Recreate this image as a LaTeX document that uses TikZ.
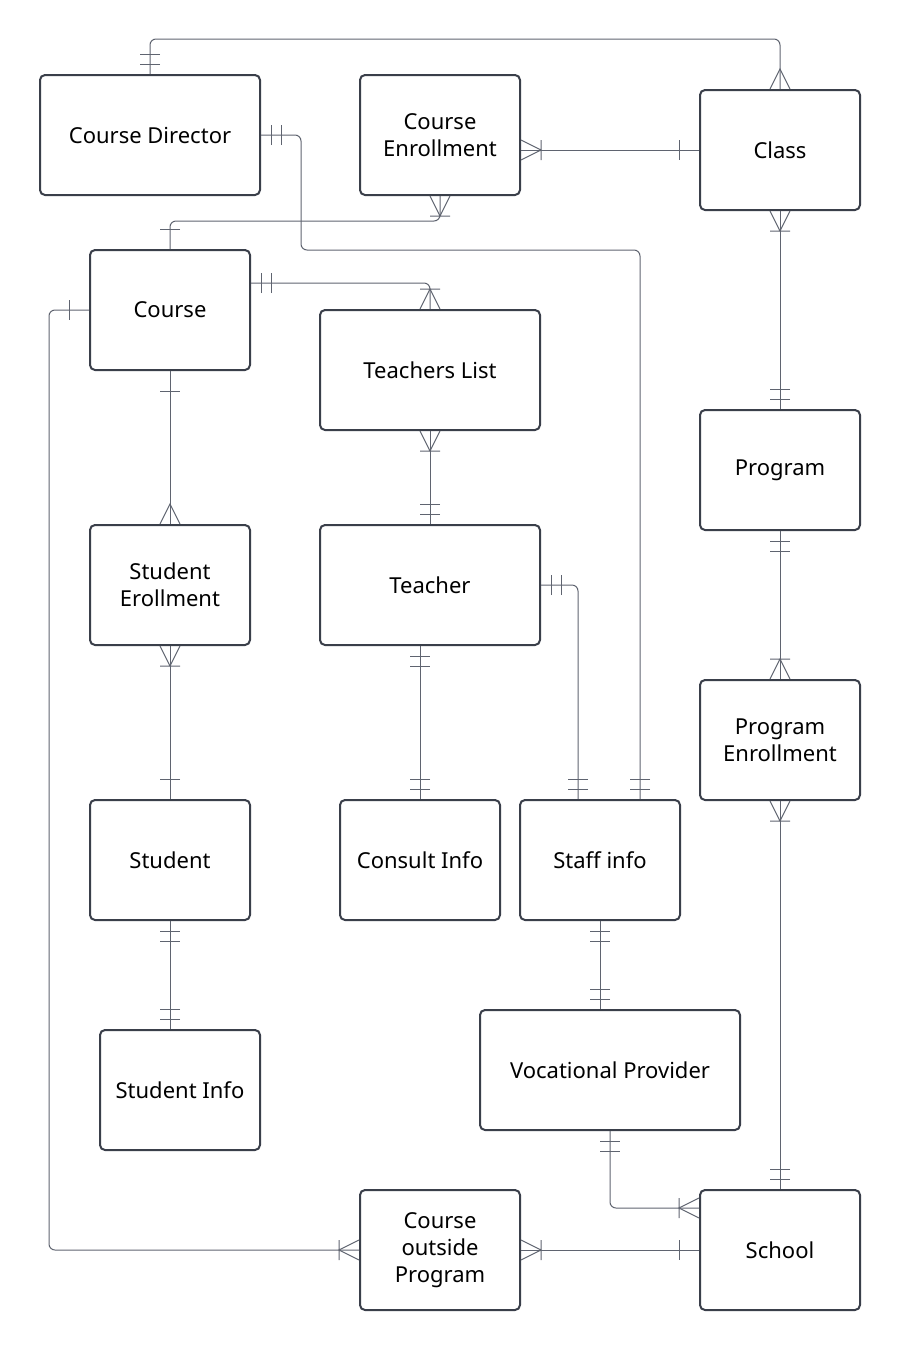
\documentclass[tikz,border=0pt]{standalone}
\usepackage{fontspec}
\setmainfont{Noto Sans}
\usetikzlibrary{arrows.meta}

\definecolor{boxline}{HTML}{3A3F4A}
\definecolor{linkgray}{HTML}{5F6470}

% crow's foot ends
\pgfdeclarearrow{
  name = many,
  setup code = {
    \pgfarrowssettipend{0pt}
    \pgfarrowssetlineend{0pt}
    \pgfarrowssetbackend{-20pt}
    \pgfarrowssetvisualbackend{-20pt}
    \pgfarrowshullpoint{0pt}{10pt}
    \pgfarrowshullpoint{0pt}{-10pt}
    \pgfarrowshullpoint{-20pt}{0pt}
  },
  drawing code = {
    \pgfsetdash{}{0pt}
    \pgfpathmoveto{\pgfqpoint{0pt}{10pt}}
    \pgfpathlineto{\pgfqpoint{-20pt}{0pt}}
    \pgfpathlineto{\pgfqpoint{0pt}{-10pt}}
    \pgfusepathqstroke
  }
}
\pgfdeclarearrow{
  name = onemany,
  setup code = {
    \pgfarrowssettipend{0pt}
    \pgfarrowssetlineend{0pt}
    \pgfarrowssetbackend{-21pt}
    \pgfarrowssetvisualbackend{-21pt}
    \pgfarrowshullpoint{0pt}{10pt}
    \pgfarrowshullpoint{0pt}{-10pt}
    \pgfarrowshullpoint{-21pt}{10pt}
    \pgfarrowshullpoint{-21pt}{-10pt}
  },
  drawing code = {
    \pgfsetdash{}{0pt}
    \pgfpathmoveto{\pgfqpoint{0pt}{10pt}}
    \pgfpathlineto{\pgfqpoint{-20pt}{0pt}}
    \pgfpathlineto{\pgfqpoint{0pt}{-10pt}}
    \pgfpathmoveto{\pgfqpoint{-20pt}{10pt}}
    \pgfpathlineto{\pgfqpoint{-20pt}{-10pt}}
    \pgfusepathqstroke
  }
}
\pgfdeclarearrow{
  name = one,
  setup code = {
    \pgfarrowssettipend{0pt}
    \pgfarrowssetlineend{0pt}
    \pgfarrowssetbackend{-21pt}
    \pgfarrowssetvisualbackend{-21pt}
    \pgfarrowshullpoint{0pt}{10pt}
    \pgfarrowshullpoint{0pt}{-10pt}
    \pgfarrowshullpoint{-21pt}{10pt}
    \pgfarrowshullpoint{-21pt}{-10pt}
  },
  drawing code = {
    \pgfsetdash{}{0pt}
    \pgfpathmoveto{\pgfqpoint{-20pt}{10pt}}
    \pgfpathlineto{\pgfqpoint{-20pt}{-10pt}}
    \pgfusepathqstroke
  }
}
\pgfdeclarearrow{
  name = onlyone,
  setup code = {
    \pgfarrowssettipend{0pt}
    \pgfarrowssetlineend{0pt}
    \pgfarrowssetbackend{-21pt}
    \pgfarrowssetvisualbackend{-21pt}
    \pgfarrowshullpoint{0pt}{10pt}
    \pgfarrowshullpoint{0pt}{-10pt}
    \pgfarrowshullpoint{-21pt}{10pt}
    \pgfarrowshullpoint{-21pt}{-10pt}
  },
  drawing code = {
    \pgfsetdash{}{0pt}
    \pgfpathmoveto{\pgfqpoint{-10pt}{10pt}}
    \pgfpathlineto{\pgfqpoint{-10pt}{-10pt}}
    \pgfpathmoveto{\pgfqpoint{-20pt}{10pt}}
    \pgfpathlineto{\pgfqpoint{-20pt}{-10pt}}
    \pgfusepathqstroke
  }
}

\tikzset{
  entity/.style = {draw=boxline, line width=2pt, rounded corners=5pt,
    minimum width=160pt, minimum height=120pt, inner sep=0pt,
    align=center, font=\fontsize{22}{27}\selectfont},
  wide/.style = {minimum width=220pt},
  link/.style = {draw=linkgray, line width=1pt, rounded corners=6pt}
}

\begin{document}
\begin{tikzpicture}[x=1pt, y=-1pt]
        \useasboundingbox (0,0) rectangle (900,1350);

        % entities
        \node[entity, wide] (dir) at (150,135) {Course Director};
        \node[entity] (cenr) at (440,135) {Course\\Enrollment};
        \node[entity] (class) at (780,150) {Class};
        \node[entity] (course) at (170,310) {Course};
        \node[entity, wide] (tlist) at (430,370) {Teachers List};
        \node[entity] (prog) at (780,470) {Program};
        \node[entity] (senr) at (170,585) {Student\\Erollment};
        \node[entity, wide] (teacher) at (430,585) {Teacher};
        \node[entity] (penr) at (780,740) {Program\\Enrollment};
        \node[entity] (student) at (170,860) {Student};
        \node[entity] (consult) at (420,860) {Consult Info};
        \node[entity] (staff) at (600,860) {Staff info};
        \node[entity, minimum width=260pt] (voc) at (610,1070) {Vocational Provider};
        \node[entity] (sinfo) at (180,1090) {Student Info};
        \node[entity] (cop) at (440,1250) {Course\\outside\\Program};
        \node[entity] (school) at (780,1250) {School};

        % relations
        \draw[link, onlyone-many] (dir.north) -- ++(0,-35) -| (class.north);
        \draw[link, onlyone-onlyone] (dir.east) -| ++(40,115) -| ([xshift=40pt]staff.north);
        \draw[link, onemany-one] (class.west -| cenr.east) -- (class.west);
        \draw[link, onemany-one] (cenr.south) -- ++(0,25) -| (course.north);
        \draw[link, onlyone-onemany] ([yshift=27pt]course.east) -| (tlist.north);
        \draw[link, one-onemany] (course.west) -- ++(-40,0) |- (cop.west);
        \draw[link, one-many] (course.south) -- (senr.north);
        \draw[link, onemany-onlyone] (tlist.south) -- (teacher.north);
        \draw[link, onemany-onlyone] (class.south) -- (prog.north);
        \draw[link, onemany-one] (senr.south) -- (student.north);
        \draw[link, onlyone-onlyone] ([xshift=-10pt]teacher.south) -- (consult.north);
        \draw[link, onlyone-onlyone] (teacher.east) -| ([xshift=-22pt]staff.north);
        \draw[link, onlyone-onemany] (prog.south) -- (penr.north);
        \draw[link, onemany-onlyone] (penr.south) -- (school.north);
        \draw[link, onlyone-onlyone] (student.south) -- (student.south |- sinfo.north);
        \draw[link, onlyone-onlyone] (staff.south) -- (staff.south |- voc.north);
        \draw[link, onlyone-onemany] (voc.south) |- ([yshift=42pt]school.west);
        \draw[link, onemany-one] (cop.east) -- (school.west);
\end{tikzpicture}
\end{document}
